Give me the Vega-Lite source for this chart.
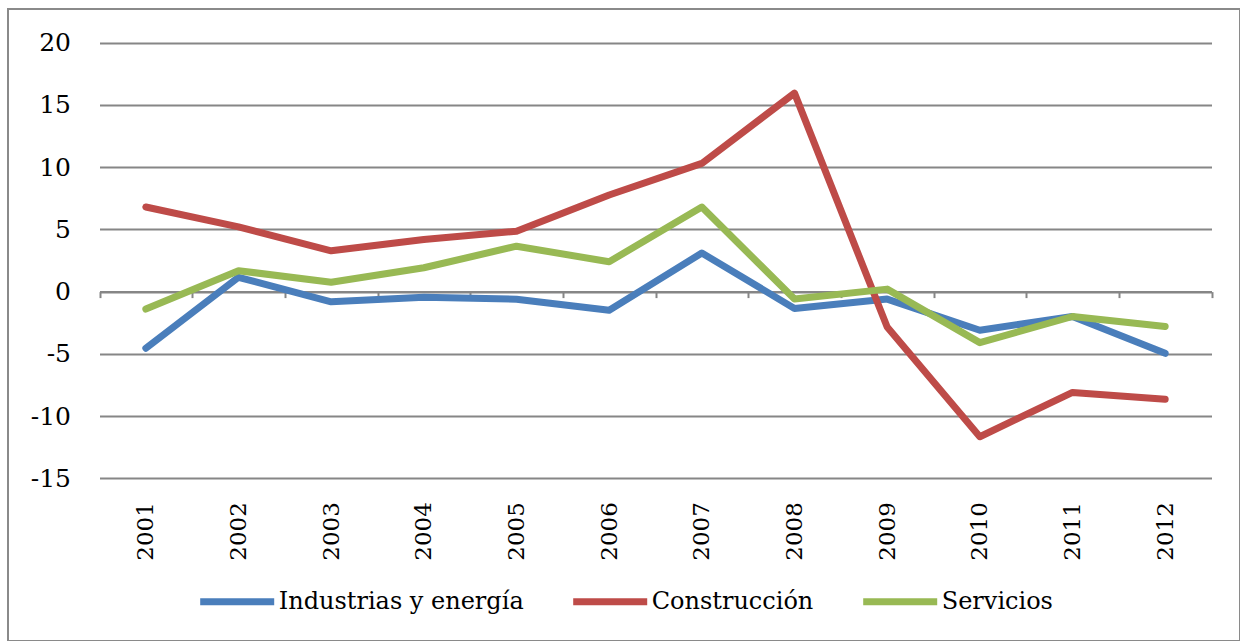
{
  "$schema": "https://vega.github.io/schema/vega-lite/v6.json",
  "width": 1232,
  "height": 632,
  "autosize": "none",
  "padding": {"left": 8, "top": 9, "right": 0, "bottom": 0},
  "background": "white",
  "config": {
    "view": {"stroke": "#8a8a8a", "strokeWidth": 2},
    "font": "DejaVu Serif"
  },
  "data": {
    "values": [
      {"year": "2001", "sector": "Industrias y energía", "value": -4.55},
      {"year": "2002", "sector": "Industrias y energía", "value": 1.15},
      {"year": "2003", "sector": "Industrias y energía", "value": -0.82},
      {"year": "2004", "sector": "Industrias y energía", "value": -0.45},
      {"year": "2005", "sector": "Industrias y energía", "value": -0.61},
      {"year": "2006", "sector": "Industrias y energía", "value": -1.5},
      {"year": "2007", "sector": "Industrias y energía", "value": 3.1},
      {"year": "2008", "sector": "Industrias y energía", "value": -1.35},
      {"year": "2009", "sector": "Industrias y energía", "value": -0.6},
      {"year": "2010", "sector": "Industrias y energía", "value": -3.1},
      {"year": "2011", "sector": "Industrias y energía", "value": -2.0},
      {"year": "2012", "sector": "Industrias y energía", "value": -4.96},
      {"year": "2001", "sector": "Construcción", "value": 6.8},
      {"year": "2002", "sector": "Construcción", "value": 5.2},
      {"year": "2003", "sector": "Construcción", "value": 3.28},
      {"year": "2004", "sector": "Construcción", "value": 4.19},
      {"year": "2005", "sector": "Construcción", "value": 4.85},
      {"year": "2006", "sector": "Construcción", "value": 7.76},
      {"year": "2007", "sector": "Construcción", "value": 10.3},
      {"year": "2008", "sector": "Construcción", "value": 15.95},
      {"year": "2009", "sector": "Construcción", "value": -2.85},
      {"year": "2010", "sector": "Construcción", "value": -11.66},
      {"year": "2011", "sector": "Construcción", "value": -8.1},
      {"year": "2012", "sector": "Construcción", "value": -8.65},
      {"year": "2001", "sector": "Servicios", "value": -1.4},
      {"year": "2002", "sector": "Servicios", "value": 1.68},
      {"year": "2003", "sector": "Servicios", "value": 0.75},
      {"year": "2004", "sector": "Servicios", "value": 1.92},
      {"year": "2005", "sector": "Servicios", "value": 3.65},
      {"year": "2006", "sector": "Servicios", "value": 2.4},
      {"year": "2007", "sector": "Servicios", "value": 6.8},
      {"year": "2008", "sector": "Servicios", "value": -0.6},
      {"year": "2009", "sector": "Servicios", "value": 0.2},
      {"year": "2010", "sector": "Servicios", "value": -4.1},
      {"year": "2011", "sector": "Servicios", "value": -2.0},
      {"year": "2012", "sector": "Servicios", "value": -2.8}
    ]
  },
  "mark": {"type": "line", "strokeWidth": 7, "strokeCap": "round", "strokeJoin": "round"},
  "encoding": {
    "x": {
      "field": "year",
      "type": "ordinal",
      "bandPosition": 0.5,
      "scale": {"type": "band", "range": [91.5, 1203.5], "paddingInner": 0, "paddingOuter": 0},
      "axis": {
        "title": null,
        "orient": "bottom",
        "offset": -349.4,
        "labelAngle": -90,
        "labelFont": "DejaVu Serif",
        "labelFontSize": 23,
        "labelColor": "#000000",
        "labelPadding": 204,
        "tickBand": "extent",
        "ticks": true,
        "tickSize": 6,
        "tickColor": "#868686",
        "tickWidth": 2,
        "domain": true,
        "domainColor": "#868686",
        "domainWidth": 2,
        "grid": false
      }
    },
    "y": {
      "field": "value",
      "type": "quantitative",
      "scale": {"domain": [-15, 20], "range": [469.3, 33.7], "nice": false, "zero": false},
      "axis": {
        "title": null,
        "orient": "left",
        "offset": -91.5,
        "values": [-15, -10, -5, 0, 5, 10, 15, 20],
        "labelExpr": "'' + datum.value",
        "domain": false,
        "ticks": false,
        "tickSize": 0,
        "labelPadding": 29,
        "labelFont": "DejaVu Serif",
        "labelFontSize": 25,
        "labelColor": "#000000",
        "grid": true,
        "gridColor": "#868686",
        "gridWidth": 2
      }
    },
    "color": {
      "field": "sector",
      "type": "nominal",
      "scale": {
        "domain": ["Industrias y energía", "Construcción", "Servicios"],
        "range": ["#4A7EBB", "#BE4B48", "#98B954"]
      },
      "legend": {
        "orient": "none",
        "legendX": 188.7,
        "legendY": 552,
        "direction": "horizontal",
        "title": null,
        "symbolType": "stroke",
        "symbolSize": 5476,
        "symbolStrokeWidth": 7,
        "labelFont": "DejaVu Serif",
        "labelFontSize": 24,
        "labelColor": "#000000",
        "labelOffset": 1,
        "columnPadding": 35,
        "padding": 0,
        "labelLimit": 0
      }
    }
  }
}
